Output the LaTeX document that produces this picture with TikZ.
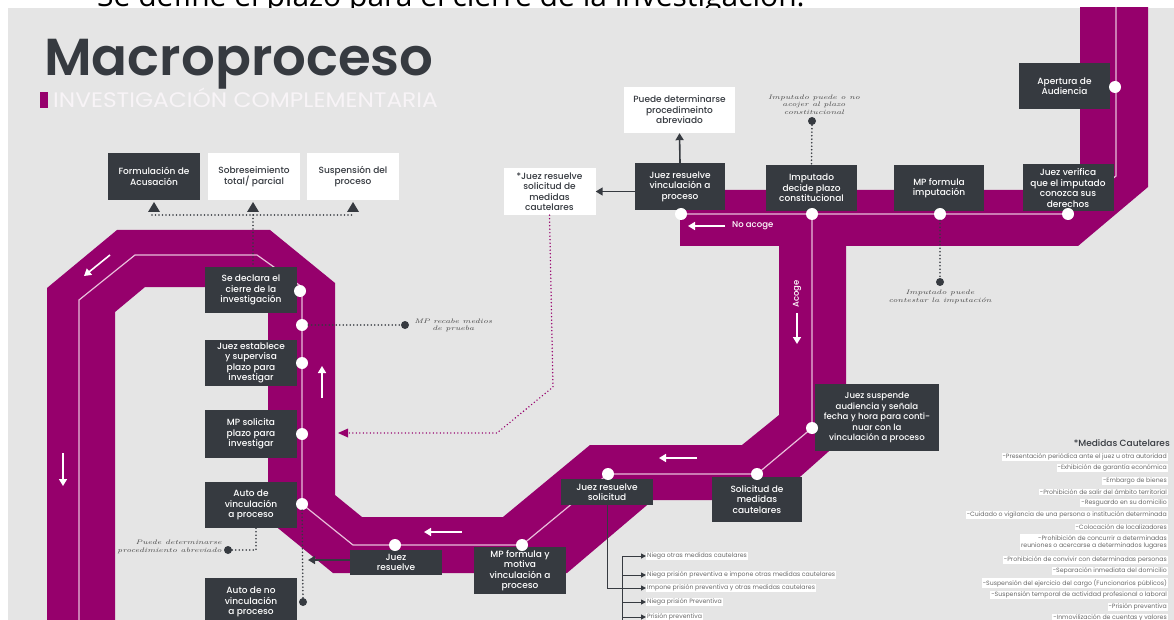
\documentclass[tikz,border=0pt]{standalone}
\usepackage{fontspec}
\setmainfont{Poppins}
\newfontfamily\topfont{Open Sans}
\newfontfamily\notefont{Latin Modern Roman}
\IfFontExistsTF{Poppins Medium}{\newfontfamily\boxfont{Poppins Medium}}{\newfontfamily\boxfont{Poppins}}
\IfFontExistsTF{Poppins SemiBold}{\newfontfamily\titlefam{Poppins SemiBold}\newcommand\tfont{\titlefam}}{\newcommand\tfont{\bfseries}}
\usetikzlibrary{arrows.meta}
\definecolor{bgc}{RGB}{229,229,229}
\definecolor{bandc}{RGB}{150,0,108}
\definecolor{boxc}{RGB}{54,58,64}
\definecolor{trackc}{RGB}{232,190,218}
\definecolor{notec}{RGB}{70,70,70}
\definecolor{itemc}{RGB}{105,105,105}
\definecolor{subc}{RGB}{248,244,247}
\begin{document}
\begin{tikzpicture}[x=1pt,y=-1pt,
  dbox/.style={fill=boxc, text=white, align=center, inner sep=0pt, font=\boxfont\fontsize{9}{10.5}\selectfont},
  wbox/.style={fill=white, text=boxc, align=center, inner sep=0pt, font=\boxfont\fontsize{9}{10.5}\selectfont},
  wdot/.style={circle, fill=white, inner sep=0pt, minimum size=12pt},
  kdot/.style={circle, fill=boxc, inner sep=0pt, minimum size=8pt},
  track/.style={draw=trackc, line width=1.2pt},
  warrow/.style={draw=white, line width=1.6pt, -{Triangle[length=7pt,width=8pt]}},
  darrow/.style={draw=boxc, line width=1.6pt, -{Triangle[length=7pt,width=8pt]}},
  sarrow/.style={draw=boxc, line width=1pt, -{Triangle[length=5pt,width=5pt]}},
  branch/.style={draw=boxc, line width=1pt},
  dotl/.style={draw=boxc, line width=1.8pt, line cap=round, dash pattern=on 0pt off 3.5pt},
  mdotl/.style={draw=bandc, line width=1.6pt, line cap=round, dash pattern=on 0pt off 3.5pt},
  note/.style={text=notec, font=\notefont\itshape\fontsize{6.5}{7.5}\selectfont, align=center, inner sep=0pt, xscale=1.3},
  litem/.style={fill=white, text=itemc, font=\fontsize{6.2}{7}\selectfont, inner sep=1pt, align=right},
  bitem/.style={fill=white, text=itemc, font=\fontsize{6.2}{7}\selectfont, inner sep=1pt, anchor=west},
  wtext/.style={text=white, font=\boxfont\fontsize{8.5}{10}\selectfont, inner sep=0pt}
]
\useasboundingbox (0,0) rectangle (1174,620);
\clip (0,0) rectangle (1174,620);
\fill[white] (0,0) rectangle (1174,620);
\node[anchor=base west, inner sep=0pt, font=\topfont\fontsize{30}{30}\selectfont] (toptext) at (97,7) {Se define el plazo para el cierre de la investigación.};
\fill[bgc] (8,8) rectangle (1174,620);

% title
\node[anchor=base west, inner sep=0pt, text=boxc, font=\tfont\fontsize{52}{52}\selectfont, xscale=1.02] (title) at (44,76) {Macroproceso};
\fill[bandc] (40,92) rectangle (48,108);
\node[anchor=base west, inner sep=0pt, text=subc, font=\fontsize{21}{21}\selectfont, xscale=1.11] (subtitle) at (53,108) {INVESTIGACIÓN COMPLEMENTARIA};

% band
\begin{scope}
\clip (8,8) rectangle (1174,620);
\fill[bandc] (47,625) -- (47,288) -- (117,230) -- (270,230) -- (335,283) -- (335,495) -- (362,517) -- (503,517) -- (590,445) -- (742,445) -- (779,415) -- (779,246) -- (680,246) -- (680,190) -- (1080,190) -- (1080,0) -- (1148,0) -- (1148,187) -- (1078,246) -- (846,246) -- (846,436) -- (774,500) -- (653,500) -- (567,573) -- (333,573) -- (268,520) -- (268,312) -- (240,287) -- (145,287) -- (115,312) -- (115,625) -- cycle;
\draw[track] (1116,0) -- (1116,176) -- (1068,214) -- (681,214);
\draw[track] (812,214) -- (812,428) -- (757,474) -- (608,474) -- (522,545) -- (353,545) -- (302,504) -- (302,287) -- (257,255) -- (135,255) -- (79,300) -- (79,625);
\end{scope}

% white arrows in band
\draw[warrow] (110,255) -- (84,276);
\draw[warrow] (63,453) -- (63,486);
\draw[warrow] (322,398) -- (322,366);
\draw[warrow] (462,532) -- (424,532);
\draw[warrow] (697,458) -- (659,458);
\draw[warrow] (797,313) -- (797,344);
\draw[warrow] (725,226) -- (688,226);
\node[wtext, anchor=west] (noacoge) at (732,226) {No acoge};
\node[wtext, rotate=90] (acoge) at (797,294) {Acoge};

% top row boxes
\node[dbox, minimum width=91pt, minimum height=46pt] (apert) at (1064.5,86) {Apertura de\\Audiencia};
\node[dbox, minimum width=91pt, minimum height=47pt] (verif) at (1068,188) {Juez verifica\\que el imputado\\conozca sus\\derechos};
\node[dbox, minimum width=90pt, minimum height=46pt] (mpimp) at (939,188) {MP formula\\imputación};
\node[dbox, minimum width=91pt, minimum height=46pt] (imput) at (811.5,188) {Imputado\\decide plazo\\constitucional};
\node[dbox, minimum width=90pt, minimum height=47pt] (jrv) at (680,186.5) {Juez resuelve\\vinculación a\\proceso};
\node[wbox, minimum width=111pt, minimum height=46pt] (abrev) at (679.5,110) {Puede determinarse\\procedimeinto\\abreviado};
\node[wbox, minimum width=92pt, minimum height=47pt] (mcaut) at (549.5,191.5) {*Juez resuelve\\solicitud de\\medidas\\cautelares};

% top-left boxes
\node[dbox, minimum width=92pt, minimum height=47pt] (acus) at (154,176.5) {Formulación de\\Acusación};
\node[wbox, minimum width=92pt, minimum height=47pt] (sobre) at (254,176.5) {Sobreseimiento\\total/ parcial};
\node[wbox, minimum width=92pt, minimum height=47pt] (susp) at (353,176.5) {Suspensión del\\proceso};

% loop column boxes
\node[dbox, minimum width=92pt, minimum height=46pt] (declara) at (251,290) {Se declara el\\cierre de la\\investigación};
\node[dbox, minimum width=92pt, minimum height=46pt] (establece) at (251,363) {Juez establece\\y supervisa\\plazo para\\investigar};
\node[dbox, minimum width=92pt, minimum height=48pt] (solicita) at (251,434) {MP solicita\\plazo para\\investigar};
\node[dbox, minimum width=92pt, minimum height=46pt] (autov) at (251,505) {Auto de\\vinculación\\a proceso};
\node[dbox, minimum width=92pt, minimum height=48pt] (autonov) at (251,602) {Auto de no\\vinculación\\a proceso};

% bottom boxes
\node[dbox, minimum width=92pt, minimum height=25pt] (jr) at (396,562.5) {Juez\\resuelve};
\node[dbox, minimum width=92pt, minimum height=47pt] (mpmot) at (520,570.5) {MP formula y\\motiva\\vinculación a\\proceso};
\node[dbox, minimum width=92pt, minimum height=26pt] (jrs) at (607,492) {Juez resuelve\\solicitud};
\node[dbox, minimum width=90pt, minimum height=45pt] (solic) at (757,499.5) {Solicitud de\\medidas\\cautelares};
\node[dbox, minimum width=124pt, minimum height=67pt, font=\boxfont\fontsize{8.6}{10.5}\selectfont] (jsusp) at (877,417.5) {Juez suspende\\audiencia y señala\\fecha y hora para conti-\\nuar con la\\vinculación a proceso};

% white dots on the track
\node[wdot] (dapert) at (1115,87) {};
\node[wdot] (dverif) at (1068,214) {};
\node[wdot] (dmpimp) at (940,214) {};
\node[wdot] (dimput) at (812,214) {};
\node[wdot] (djrv) at (681,214) {};
\node[wdot] (djsusp) at (812,428) {};
\node[wdot] (dsolic) at (757,474) {};
\node[wdot] (djrs) at (608,474) {};
\node[wdot] (dmpmot) at (522,545) {};
\node[wdot] (djr) at (395,545) {};
\node[wdot] (dautov) at (302,504) {};
\node[wdot] (dsolicita) at (302,434) {};
\node[wdot] (destablece) at (302,363) {};
\node[wdot] (drecabe) at (302,325) {};
\node[wdot] (ddeclara) at (300,291) {};

% dark arrows
\draw[darrow] (jrv.west |- mcaut.east) -- (mcaut.east);
\draw[darrow] (jrv.north) -- (abrev.south);
\coordinate (jrend) at (308,560);
\draw[darrow] (jr.west |- jrend) -- (jrend);

% notes with dotted lines
\node[kdot] (kimput) at (812,121) {};
\draw[dotl] (kimput) -- (imput.north);
\node[note] (nimput) at (814,104.5) {Imputado puede o no\\acojer al plazo\\constitucional};
\node[kdot] (kmpimp) at (940,282) {};
\draw[dotl] (dmpimp) -- (kmpimp);
\node[note] (nmpimp) at (940,297) {Imputado puede\\contestar la imputación};
\node[kdot] (krecabe) at (405,325) {};
\draw[dotl] (drecabe) -- (krecabe);
\node[note, anchor=west, align=center] (nrecabe) at (414,325.5) {MP recabe medios\\de prueba};
\node[kdot] (kabrev) at (228,550) {};
\draw[dotl] (autov.south -| 256,0) -- (256,550) -- (kabrev);
\node[note, anchor=east, align=right] (nabrev) at (222,547) {Puede determinarse\\procedimiento abreviado};
\node[kdot] (knov) at (303,602) {};
\draw[dotl] (dautov) -- (knov);

% top dotted branch with triangles
\coordinate (tl) at (152,215);
\coordinate (tr) at (353,215);
\draw[dotl] (tl) -- (tr);
\draw[dotl] (253,215) -- (declara.north -| 253,0);
\foreach \nm/\xx in {acus/154, sobre/253, susp/353}{
  \fill[boxc] (\xx-6,212) -- (\xx+6,212) -- (\xx,202) -- cycle;
}

% magenta dotted connector
\coordinate (mend) at (338,433);
\draw[mdotl] (mcaut.south) -- (553,387) -- (497,433) -- (346,433);
\fill[bandc] (mend) -- (348,428.5) -- (348,437.5) -- cycle;

% bottom branch list
\draw[branch] (jrs.south) -- (607,588) -- (622,588);
\draw[branch] (622,556) -- (622,625);
\node[bitem] (b1) at (646,556) {Niega otras medidas cautelares};
\node[bitem] (b2) at (646,575) {Niega prisión preventiva e impone otras medidas cautelares};
\node[bitem] (b3) at (646,588) {Impone prisión preventiva y otras medidas cautelares};
\node[bitem] (b4) at (646,602) {Niega prisión Preventiva};
\node[bitem] (b5) at (646,617) {Prisión preventiva};
\foreach \b in {b1,b2,b3,b4,b5}{
  \draw[sarrow] (622,0 |- \b.west) -- (\b.west);
}

% medidas cautelares list
\node[anchor=east, inner sep=0pt, text=boxc, font=\boxfont\fontsize{9}{10}\selectfont] (mctitle) at (1170,443) {*Medidas Cautelares};
\node[litem, anchor=east] (m1) at (1168,457) {-Presentación periódica ante el juez u otra autoridad};
\node[litem, anchor=east] (m2) at (1168,468) {-Exhibición de garantía económica};
\node[litem, anchor=east] (m3) at (1168,481) {-Embargo de bienes};
\node[litem, anchor=east] (m4) at (1168,492) {-Prohibición de salir del ámbito territorial};
\node[litem, anchor=east] (m5) at (1168,503) {-Resguardo en su domicilio};
\node[litem, anchor=east] (m6) at (1168,515) {-Cuidado o vigilancia de una persona o institución determinada};
\node[litem, anchor=east] (m7) at (1168,527) {-Colocación de localizadores};
\node[litem, anchor=east] (m8) at (1168,542) {-Prohibición de concurrir a determinadas\\reuniones o acercarse a determinados lugares};
\node[litem, anchor=east] (m9) at (1168,560) {-Prohibición de convivir con determinadas personas};
\node[litem, anchor=east] (m10) at (1168,571) {-Separación inmediata del domicilio};
\node[litem, anchor=east] (m11) at (1168,583) {-Suspensión del ejercicio del cargo (Funcionarios públicos)};
\node[litem, anchor=east] (m12) at (1168,595) {-Suspensión temporal de actividad profesional o laboral};
\node[litem, anchor=east] (m13) at (1168,607) {-Prisión preventiva};
\node[litem, anchor=east] (m14) at (1168,618) {-Inmovilización de cuentas y valores};
\end{tikzpicture}
\end{document}
